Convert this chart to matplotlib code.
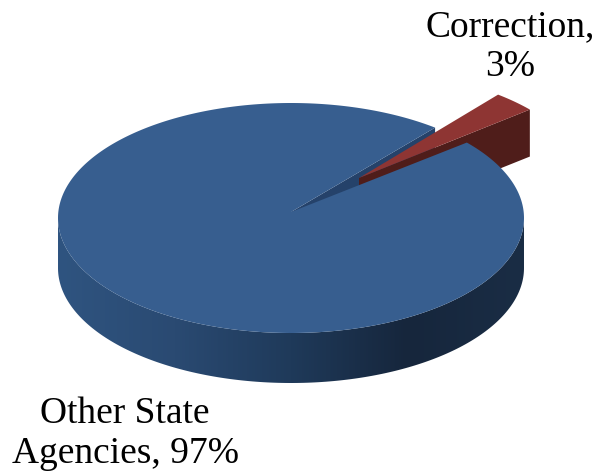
import numpy as np
import matplotlib
matplotlib.use("Agg")
import matplotlib.pyplot as plt
from matplotlib.colors import LinearSegmentedColormap
from matplotlib.patches import Polygon

labels = ["Other State\nAgencies, 97%", "Correction,\n3%"]
shares = [97, 3]

plt.rcParams['font.family'] = ['Liberation Serif', 'DejaVu Serif']

# pie geometry, in pixels of the 598x472 picture
cx, cy = 291, 218
apex_y = 212
rx, ry = 233, 115
depth = 50
start = 41
offset = np.array([63, -33])
apex_offset = np.array([68, -34])
red_depth = 47

def rim(t):
    t = np.radians(t)
    return np.column_stack([cx + rx * np.cos(t), cy - ry * np.sin(t)])

fig = plt.figure(figsize=(5.98, 4.72), dpi=100)
ax = fig.add_axes([0, 0, 1, 1])
ax.set_xlim(0, 598)
ax.set_ylim(472, 0)
ax.axis('off')

# the small slice spans its share of the circle
span = shares[1] / sum(shares) * 360
end = start + span
apex = np.array([cx, apex_y])
down = np.array([0, depth])

# cut face of the big slice, seen through the gap
p_end = rim(end)[0]
ax.add_patch(Polygon([apex, p_end, p_end + down, apex + down], color='#25426a', lw=0, zorder=1))

# pulled-out slice: dark side first
red_down = np.array([0, red_depth])
p_start = rim(start)[0]
ax.add_patch(Polygon([apex + apex_offset, p_start + offset, p_start + offset + red_down, apex + apex_offset + red_down],
                     color='#4f1d1a', lw=0, zorder=2))

# front wall with the left to right shading
wall_t = np.linspace(180, 360, 200)
front = rim(wall_t)
wall = Polygon(np.vstack([front, (front + down)[::-1]]), color='none', lw=0)
ax.add_patch(wall)
cmap = LinearSegmentedColormap.from_list('wall', ['#2f5480', '#2a4a72', '#1f3a5a', '#16263c', '#1a2d45'])
grad = ax.imshow(np.linspace(0, 1, 256).reshape(1, -1), cmap=cmap, extent=[cx - rx, cx + rx, 472, 0],
                 aspect='auto', zorder=3)
grad.set_clip_path(wall)
ax.set_xlim(0, 598)
ax.set_ylim(472, 0)

# top of the big slice
top_t = np.linspace(end, start + 360, 400)
ax.add_patch(Polygon(np.vstack([apex, rim(top_t)]), color='#375e8f', lw=0, zorder=4))

# top of the pulled-out slice
red_t = np.linspace(start, end, 20)
ax.add_patch(Polygon(np.vstack([apex + apex_offset, rim(red_t) + offset]), color='#8e3533', lw=0, zorder=5))

ax.text(125, 434, labels[0], fontsize=27, ha='center', va='center', color='black', linespacing=1.2)
ax.text(510, 47, labels[1], fontsize=27, ha='center', va='center', color='black', linespacing=1.2)

fig.savefig('out.png', dpi=100)
